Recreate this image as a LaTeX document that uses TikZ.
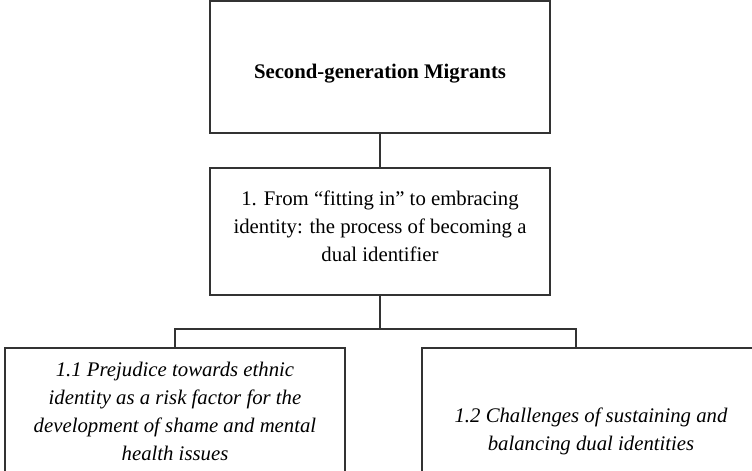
\documentclass[tikz,border=0pt]{standalone}
\usepackage{fontspec}
\setmainfont{Liberation Serif}
\usepackage{tikz}
\usetikzlibrary{positioning}

\begin{document}
\begin{tikzpicture}
  [x=0.578pt,y=-0.578pt,line width=0.9pt,
   every node/.style={draw=black!80,rectangle,align=center,inner sep=0pt,
     minimum width=196.5pt,font=\fontsize{12}{16.2}\selectfont}]

  \tikzstyle{heading} = [font=\fontsize{12}{16.2}\selectfont\bfseries]
  \tikzstyle{subtheme} = [font=\fontsize{12}{16.2}\selectfont\itshape]

  \useasboundingbox (0,0) rectangle (752,470);
  \clip (0,0) rectangle (752,470);

  \node[heading,minimum height=76.3pt] (root)  at (380,67)
    {\rule{0pt}{16.3pt}Second-generation Migrants};
  \node[minimum height=73.4pt]         (theme) at (380,231.5)
    {1. From ``fitting in'' to embracing\\identity: the process of becoming a\\dual identifier\rule[-5.8pt]{0pt}{5.8pt}};
  \node[subtheme,minimum height=72.8pt] (sub1) at (175,411)
    {1.1 Prejudice towards ethnic\\identity as a risk factor for the\\development of shame and mental\\health issues};
  \node[subtheme,minimum width=195.4pt,minimum height=93.6pt] (sub2) at (591,429)
    {\rule{0pt}{11.6pt}1.2 Challenges of sustaining and\\balancing dual identities};

  \coordinate (fork) at (380,329);
  \coordinate (join) at (576,348);

  \draw[draw=black!80] (root) -- (theme);
  \draw[draw=black!80] (theme) -- (fork);
  \draw[draw=black!80] (sub1.north) |- (fork) -| (join);
\end{tikzpicture}
\end{document}
